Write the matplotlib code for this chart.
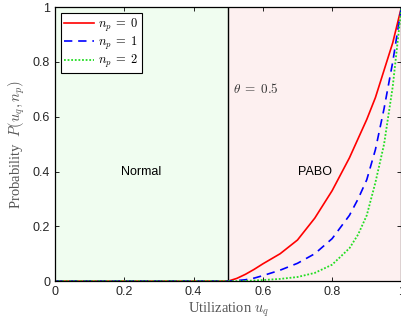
import matplotlib
matplotlib.use('Agg')
import matplotlib.pyplot as plt

plt.rcParams['mathtext.fontset'] = 'cm'
plt.rcParams['font.family'] = 'Liberation Sans'

# values (zero below the threshold)
u = [0.0, 0.5, 0.525, 0.55, 0.575, 0.6, 0.65, 0.7, 0.75, 0.8, 0.85, 0.875, 0.9, 0.925, 0.95, 0.975, 1.0]
p0 = [0, 0, 0.01, 0.025, 0.043, 0.063, 0.10, 0.15, 0.23, 0.33, 0.45, 0.52, 0.59, 0.67, 0.77, 0.87, 1.0]
p1 = [0, 0, 0.002, 0.005, 0.011, 0.02, 0.04, 0.065, 0.10, 0.155, 0.24, 0.30, 0.37, 0.48, 0.63, 0.80, 1.0]
p2 = [0, 0, 0.0, 0.001, 0.002, 0.004, 0.008, 0.015, 0.03, 0.06, 0.12, 0.17, 0.24, 0.36, 0.50, 0.71, 1.0]
theta = 0.5
ticks = [0, 0.2, 0.4, 0.6, 0.8, 1]

fig = plt.figure(figsize=(4.01, 3.25), dpi=100)
ax = fig.add_axes([0.137, 0.135, 0.864, 0.843])

ax.axvspan(0, theta, color='#f0fdf0', zorder=0)
ax.axvspan(theta, 1, color='#fdf0f0', zorder=0)
ax.axvline(theta, color='black', lw=1.0)

ax.plot(u, p0, color='red', lw=1.2, label=r'$n_p\;=\;0$')
ax.plot(u, p1, color='blue', lw=1.2, ls=(0, (5, 3.5)), label=r'$n_p\;=\;1$')
ax.plot(u, p2, color='#22dd22', lw=1.3, ls=(0, (1, 1)), label=r'$n_p\;=\;2$')

ax.text(0.25, 0.4, 'Normal', ha='center', va='center', fontsize=9)
ax.text(0.75, 0.4, 'PABO', ha='center', va='center', fontsize=9)
ax.text(0.515, 0.70, r'$\theta\;=\;0.5$', ha='left', va='center', fontsize=9.5, color='#333333')

ax.set_xlim(0, 1)
ax.set_ylim(0, 1)
ax.set_xticks(ticks)
ax.set_yticks(ticks)
ax.set_xticklabels(['0', '0.2', '0.4', '0.6', '0.8', '1'])
ax.set_yticklabels(['0', '0.2', '0.4', '0.6', '0.8', '1'])
ax.tick_params(direction='in', top=True, right=True, length=3, labelsize=9,
               labelcolor='#262626', width=0.6)
for s in ax.spines.values():
    s.set_linewidth(0.9)

ax.set_xlabel('Utilization $u_q$', fontsize=10.5, family='Liberation Serif', color='#555555', labelpad=2)
ax.set_ylabel('Probability  $P(u_q, n_p)$', fontsize=10.5, family='Liberation Serif', color='#555555', labelpad=4)

leg = ax.legend(loc='upper left', fontsize=9, fancybox=False, edgecolor='black',
                framealpha=1, handlelength=2.4, borderaxespad=0.5, handletextpad=0.3,
                labelspacing=0.1, borderpad=0.25)
leg.get_frame().set_linewidth(0.8)

fig.savefig('out.png', dpi=100)
